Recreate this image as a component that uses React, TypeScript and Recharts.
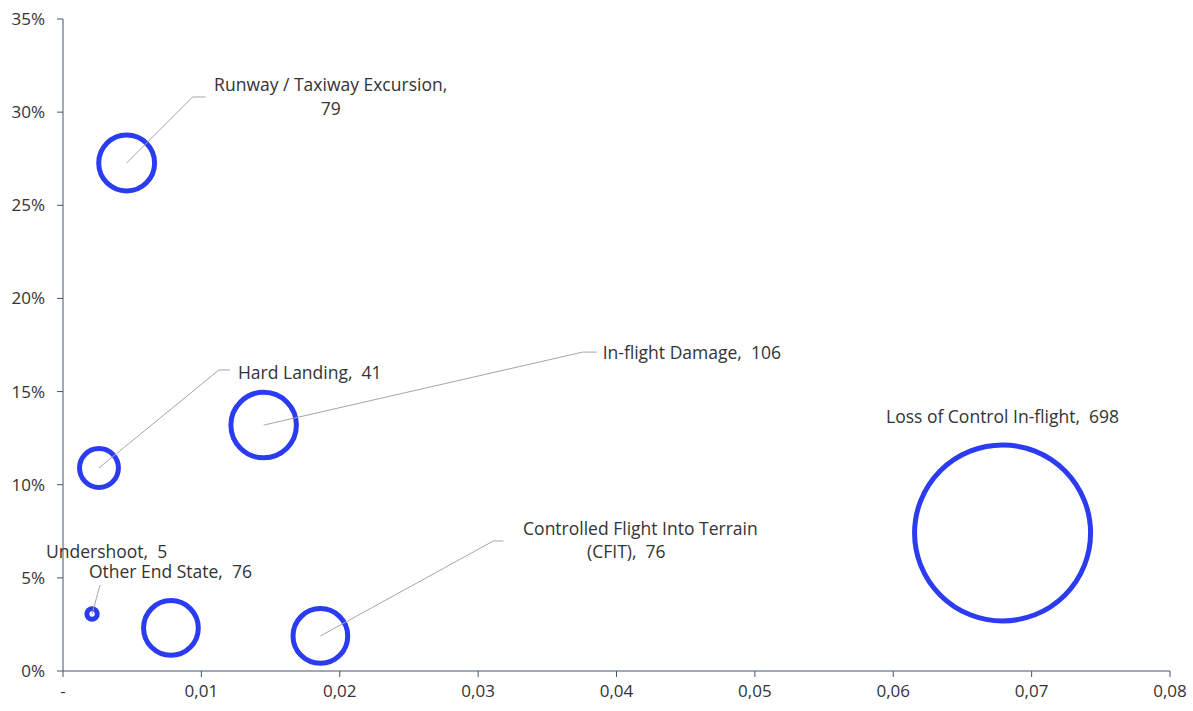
import React from "react";
import { ScatterChart, Scatter, XAxis, YAxis, ZAxis } from "recharts";

const categories = [
  "Runway / Taxiway Excursion",
  "Hard Landing",
  "In-flight Damage",
  "Loss of Control In-flight",
  "Undershoot",
  "Other End State",
  "Controlled Flight Into Terrain (CFIT)",
];
const xValues = [0.0046, 0.0026, 0.0145, 0.0679, 0.0021, 0.0078, 0.0186];
const yValues = [27.27, 10.9, 13.2, 7.41, 3.06, 2.31, 1.88];
const counts = [79, 41, 106, 698, 5, 76, 76];

const xTicks = [0, 0.01, 0.02, 0.03, 0.04, 0.05, 0.06, 0.07, 0.08];
const yTicks = [0, 5, 10, 15, 20, 25, 30, 35];

const data = categories.map((name, i) => ({
  name,
  x: xValues[i],
  y: yValues[i],
  count: counts[i],
}));

// label layout (pixel offsets relative to bubble centre)
type LabelLine = { text: string; dx: number; dy: number; anchor: "start" | "middle" | "end" };
type LabelLayout = { lines: LabelLine[]; leader?: [number, number][] };
const labelLayout: Record<string, LabelLayout> = {
  "Runway / Taxiway Excursion": {
    lines: [
      { text: "Runway / Taxiway Excursion,", dx: 204, dy: -77, anchor: "middle" },
      { text: "79", dx: 204, dy: -53, anchor: "middle" },
    ],
    leader: [[66, -66], [79, -66]],
  },
  "Hard Landing": {
    lines: [{ text: "Hard Landing,  41", dx: 139, dy: -94, anchor: "start" }],
    leader: [[120, -98], [131, -98]],
  },
  "In-flight Damage": {
    lines: [{ text: "In-flight Damage,  106", dx: 339, dy: -71, anchor: "start" }],
    leader: [[319, -73], [333, -73]],
  },
  "Loss of Control In-flight": {
    lines: [{ text: "Loss of Control In-flight,  698", dx: 0, dy: -115, anchor: "middle" }],
  },
  Undershoot: {
    lines: [{ text: "Undershoot,  5", dx: -46, dy: -61, anchor: "start" }],
    leader: [[8, -29]],
  },
  "Other End State": {
    lines: [{ text: "Other End State,  76", dx: -82, dy: -55, anchor: "start" }],
  },
  "Controlled Flight Into Terrain (CFIT)": {
    lines: [
      { text: "Controlled Flight Into Terrain", dx: 320, dy: -106, anchor: "middle" },
      { text: "(CFIT),  76", dx: 306, dy: -83, anchor: "middle" },
    ],
    leader: [[173, -95], [183, -95]],
  },
};

const BUBBLE = "#2b3cf0";
const AXIS = "#44546a";
const TEXT = "#333333";
const FONT = "'Open Sans', sans-serif";
const FS = 17.5;
const TICK_FS = 17;
const MAX_R = 90.5;
const STROKE_W = 5;

const radiusOf = (p: any) => {
  const s = typeof p.size === "number" ? p.size : Math.PI * Math.pow((p.width || 0) / 2, 2);
  return Math.sqrt(Math.max(s, 0) / Math.PI);
};

const BubbleShape = (p: any) => {
  const r = Math.max(radiusOf(p) - STROKE_W / 2, 1);
  return <circle cx={p.cx} cy={p.cy} r={r} fill="none" stroke={BUBBLE} strokeWidth={STROKE_W} />;
};

const LabelShape = (p: any) => {
  const name = p.payload?.name;
  const lay = labelLayout[name];
  if (!lay) return <g />;
  const { cx, cy } = p;
  const pts = lay.leader ? [[0, 0], ...lay.leader] : null;
  return (
    <g>
      {pts && (
        <polyline
          points={pts.map(([a, b]) => `${cx + a},${cy + b}`).join(" ")}
          fill="none"
          stroke="#a6a6a6"
          strokeWidth={1}
        />
      )}
      {lay.lines.map((l, i) => (
        <text
          key={i}
          x={cx + l.dx}
          y={cy + l.dy}
          textAnchor={l.anchor}
          dominantBaseline="middle"
          fontFamily={FONT}
          fontSize={FS}
          fill={TEXT}
          style={{ whiteSpace: "pre" }}
        >
          {l.text}
        </text>
      ))}
    </g>
  );
};

const fmtX = (v: number) => (v === 0 ? "-" : v.toFixed(2).replace(".", ","));
const fmtY = (v: number) => `${v}%`;

export default function App() {
  return (
    <div style={{ position: "fixed", left: 0, top: 0, width: 1193, height: 711, background: "#fff" }}>
      <ScatterChart
        width={1193}
        height={711}
        margin={{ top: 19, right: 23, bottom: 10, left: 13 }}
      >
        <XAxis
          type="number"
          dataKey="x"
          domain={[0, 0.08]}
          ticks={xTicks}
          tickFormatter={fmtX}
          height={30}
          stroke={AXIS}
          tickSize={6}
          tickMargin={8}
          tick={{ fill: TEXT, fontSize: TICK_FS, fontFamily: FONT }}
          interval={0}
        />
        <YAxis
          type="number"
          dataKey="y"
          domain={[0, 35]}
          ticks={yTicks}
          tickFormatter={fmtY}
          width={50}
          stroke={AXIS}
          tickSize={6}
          tickMargin={12}
          tick={{ fill: TEXT, fontSize: TICK_FS, fontFamily: FONT }}
          interval={0}
        />
        <ZAxis type="number" dataKey="count" domain={[0, 698]} range={[0, Math.PI * MAX_R * MAX_R]} />
        <Scatter data={data} shape={BubbleShape} isAnimationActive={false} />
        <Scatter data={data} shape={LabelShape} isAnimationActive={false} />
      </ScatterChart>
    </div>
  );
}
